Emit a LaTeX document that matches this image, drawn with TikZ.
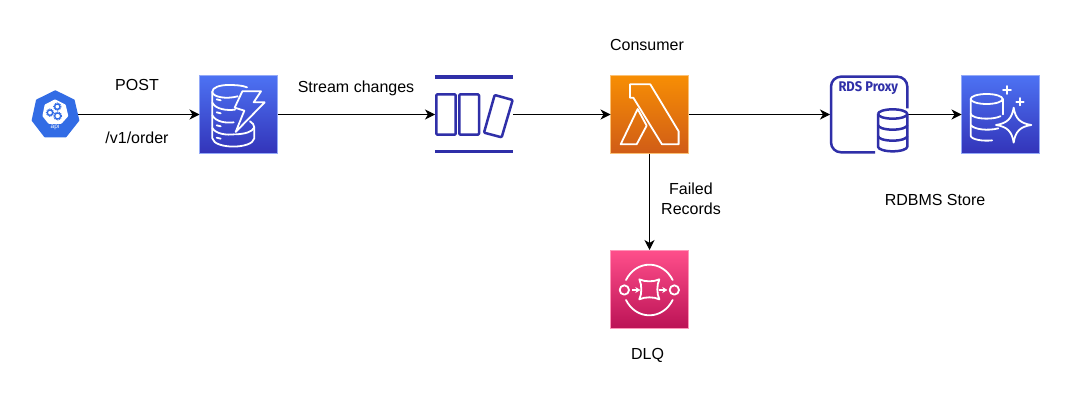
\documentclass[tikz,border=0pt]{standalone}
\usepackage{fontspec}
\setmainfont{Liberation Sans}
\newfontfamily\proxyfont[FakeStretch=0.92]{Fira Sans}
\usetikzlibrary{arrows.meta,shapes.geometric}
\definecolor{awsblueT}{HTML}{4D72F3}
\definecolor{awsblueB}{HTML}{3334B9}
\definecolor{awsorgT}{HTML}{F78E04}
\definecolor{awsorgB}{HTML}{D05C17}
\definecolor{awspinkT}{HTML}{FF4F8B}
\definecolor{awspinkB}{HTML}{BC1356}
\definecolor{k8s}{HTML}{326CE5}
\definecolor{indigo}{HTML}{2F2FA8}
\tikzset{
  box/.style={rectangle,inner sep=0pt,outer sep=0pt,minimum width=78pt,minimum height=78pt},
  bluebox/.style={box,top color=awsblueT,bottom color=awsblueB,draw=awsblueT!60!white,line width=.8pt},
  orgbox/.style={box,top color=awsorgT,bottom color=awsorgB,draw=awsorgT!55!white,line width=.8pt},
  pinkbox/.style={box,top color=awspinkT,bottom color=awspinkB,draw=awspinkT!60!white,line width=.8pt},
  ghost/.style={box},
  flow/.style={draw=black,line width=1pt,-{Stealth[length=10pt,width=10pt,inset=3pt]}},
  lbl/.style={font=\fontsize{16}{18}\selectfont,text=black,inner sep=0pt,align=center},
  wline/.style={draw=white,line width=1.8pt,line join=round,line cap=round},
  iline/.style={draw=indigo,line width=2.5pt,line join=round},
  zoomed/.style={x=.3333pt,y=-.3333pt}
}
\begin{document}
\begin{tikzpicture}[x=1pt,y=-1pt]
\useasboundingbox (0,0) rectangle (1070,401);
\fill[white] (0,0) rectangle (1070,401);
% nodes
\node[ghost,minimum width=46pt,minimum height=46pt] (api) at (55,114.5) {};
\node[bluebox] (dyn) at (238.5,114.5) {};
\node[ghost] (kin) at (474,114.5) {};
\node[orgbox] (lam) at (649.5,114.5) {};
\node[ghost] (prx) at (869,114.5) {};
\node[bluebox] (aur) at (1000.5,114.5) {};
\node[pinkbox] (sqs) at (649.5,289) {};
% labels
\node[lbl] (t1) at (137,85) {POST};
\node[lbl] (t2) at (137,138) {/v1/order};
\node[lbl] (t3) at (356,88) {Stream changes};
\node[lbl] (t4) at (647,45) {Consumer};
\node[lbl] (t5) at (691,198.5) {Failed\\[2pt]Records};
\node[lbl] (t6) at (935,200) {RDBMS Store};
\node[lbl] (t7) at (647.5,355) {DLQ};
% connectors
\draw[flow] (api.east) -- (dyn.west);
\draw[flow] (dyn.east) -- (kin.west);
\draw[flow] (kin.east) -- (lam.west);
\draw[flow] (lam.east) -- (prx.west);
\draw[flow] (prx.east) -- (aur.west);
\draw[flow] (lam.south) -- (sqs.north);
% API icon
\begin{scope}[shift={(20,65)},zoomed]
\fill[k8s,line join=round,draw=k8s,line width=2pt] (106,79) -- (161,106) -- (175,166) -- (137,214) -- (75,214) -- (38,166) -- (51,106) -- cycle;
\fill[white,draw=white,line join=round,line width=3pt] (105,108) -- (133,122) -- (140,152) -- (122,172) -- (88,172) -- (72,152) -- (78,122) -- cycle;
\foreach \gx/\gy/\gr in {90/143/8,112/125/8,113/153/9}{
  \draw[k8s,line width=1.3pt,fill=white] (\gx,\gy) circle[radius=\gr];
  \draw[k8s,line width=1pt,dash pattern=on .9pt off .9pt] (\gx,\gy) circle[radius=\gr+3];
}
\node[font=\fontsize{6.5}{7}\selectfont,text=white,inner sep=0pt] (apit) at (105,185) {api};
\end{scope}
% DynamoDB icon
\begin{scope}[shift={(195,70)},zoomed]
\draw[wline] (128,79) .. controls (95,88) and (52,82) .. (52,65) .. controls (52,52) and (75,45) .. (100,45) .. controls (122,45) and (142,46) .. (156,52);
\draw[wline] (52,65) -- (52,205) .. controls (58,238) and (172,238) .. (178,205) -- (178,172) .. controls (178,165) and (172,158) .. (165,154);
\draw[wline] (52,98) .. controls (62,118) and (95,122) .. (120,119);
\draw[wline] (52,136) .. controls (62,156) and (95,160) .. (116,157);
\draw[wline] (52,174) .. controls (62,192) and (95,196) .. (118,193);
\draw[wline] (122,193) .. controls (150,192) and (172,186) .. (178,172);
\draw[wline] (65,88) -- (77,91);
\draw[wline] (65,127) -- (77,130);
\draw[wline] (65,166) -- (77,169);
\draw[wline] (65,203) -- (77,206);
\draw[wline] (142,64) -- (198,64) -- (176,97) -- (209,97) -- (122,186) -- (148,122) -- (119,113) -- cycle;
\end{scope}
% Kinesis icon
\begin{scope}[shift={(420,65)},zoomed]
\draw[indigo,line width=3.3pt] (45,36) -- (280,36);
\draw[indigo,line width=3.3pt] (45,260) -- (280,260);
\draw[iline,rounded corners=1pt] (49,88) rectangle (107,209);
\draw[iline,rounded corners=1pt] (118,88) rectangle (177,209);
\draw[iline,rounded corners=1pt] (224,90) -- (278,105) -- (245,217) -- (192,203) -- cycle;
\end{scope}
% Lambda icon
\begin{scope}[shift={(420,65)},zoomed]
\draw[wline] (630,58) -- (691,58) -- (776,199) -- (776,238) -- (726,238) -- (640,98) -- (630,98) -- cycle;
\draw[wline] (653,132) -- (680,182) -- (650,238) -- (602,238) -- cycle;
\end{scope}
% RDS Proxy icon
\begin{scope}[shift={(820,65)},zoomed]
\draw[iline] (262,130) -- (262,65) arc[start angle=0,end angle=-90,radius=30] -- (63,35) arc[start angle=-90,end angle=-180,radius=30] -- (33,232) arc[start angle=180,end angle=90,radius=30] -- (165,262);
\node[font=\proxyfont\bfseries\fontsize{14}{16}\selectfont,text=indigo,inner sep=0pt] (prxt) at (145,69) {RDS Proxy};
\fill[white] (174,135) rectangle (264,264);
\draw[iline] (174,147) arc[start angle=180,end angle=540,x radius=44,y radius=14];
\draw[iline] (174,147) -- (174,245) arc[start angle=180,end angle=0,x radius=44,y radius=14] -- (262,147);
\draw[iline] (174,180) arc[start angle=180,end angle=0,x radius=44,y radius=14];
\draw[iline] (174,213) arc[start angle=180,end angle=0,x radius=44,y radius=14];
\end{scope}
% Aurora icon
\begin{scope}[shift={(820,65)},zoomed]
\draw[wline] (452,102) arc[start angle=180,end angle=540,x radius=48,y radius=15];
\draw[wline] (452,102) -- (452,212) arc[start angle=180,end angle=70,x radius=48,y radius=15];
\draw[wline] (548,102) -- (548,148);
\draw[wline] (452,146) arc[start angle=180,end angle=30,x radius=48,y radius=15];
\draw[wline] (452,180) .. controls (462,194) and (505,198) .. (535,190);
\draw[wline] (581,128) .. controls (586,160) and (600,175) .. (634,180) .. controls (600,185) and (586,200) .. (581,233) .. controls (576,200) and (562,185) .. (528,180) .. controls (562,175) and (576,160) .. (581,128) -- cycle;
\draw[wline] (561,63) -- (561,87) (549,75) -- (573,75);
\draw[wline] (600,99) -- (600,121) (589,110) -- (611,110);
\end{scope}
% SQS icon
\begin{scope}[shift={(600,240)},zoomed]
\draw[wline] (78,120) .. controls (92,92) and (118,74) .. (148,74) .. controls (178,74) and (204,92) .. (218,120);
\draw[wline] (78,180) .. controls (92,208) and (118,226) .. (148,226) .. controls (178,226) and (204,208) .. (218,180);
\draw[wline] (73,150) circle[radius=14];
\draw[wline] (223,150) circle[radius=14];
\draw[wline] (118,118) .. controls (135,126) and (161,126) .. (178,118) .. controls (170,135) and (170,161) .. (178,178) .. controls (161,170) and (135,170) .. (118,178) .. controls (126,161) and (126,135) .. (118,118) -- cycle;
\draw[white,line width=1.6pt,-{Stealth[length=5pt,width=6pt]}] (97,150) -- (121,150);
\draw[white,line width=1.6pt,-{Stealth[length=5pt,width=6pt]}] (178,150) -- (202,150);
\end{scope}
\end{tikzpicture}
\end{document}
